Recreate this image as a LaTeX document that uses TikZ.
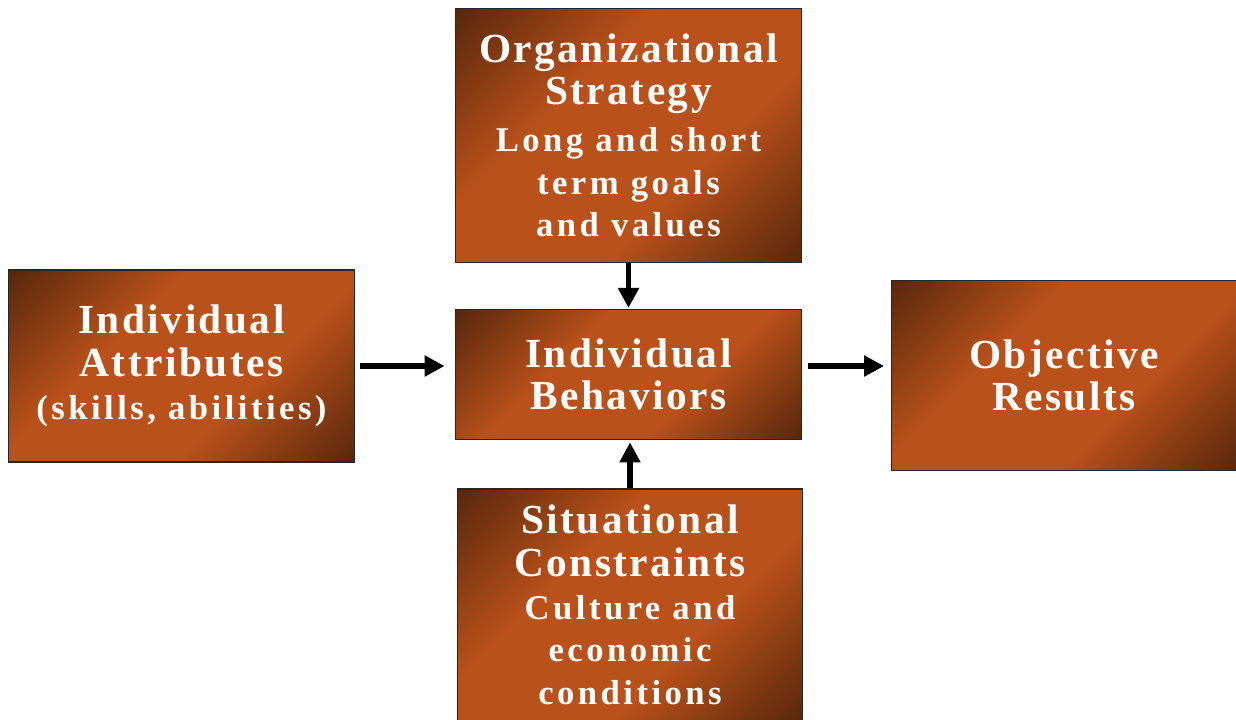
\documentclass[tikz,border=0pt]{standalone}
\usepackage{fontspec}
\setmainfont{Liberation Serif}
\usepackage{tikz}
\usetikzlibrary{arrows.meta}

\definecolor{boxdark}{RGB}{90,40,13}
\definecolor{boxorange}{RGB}{186,81,26}
\pgfdeclareverticalshading{boxshade}{100bp}{color(0bp)=(boxdark); color(15bp)=(boxdark);
  color(38bp)=(boxorange); color(62bp)=(boxorange); color(85bp)=(boxdark); color(100bp)=(boxdark)}

\newcommand{\headtext}{\fontsize{31}{32}\selectfont\bfseries\addfontfeature{LetterSpace=6}}
\newcommand{\subtext}{\fontsize{26}{32}\selectfont\bfseries\addfontfeature{LetterSpace=10}}

\begin{document}
\begin{tikzpicture}[>=Latex,x=0.75pt,y=-0.75pt]
  % Styles
  \tikzset{
    factor/.style={draw=black!85,line width=0.8pt,shading=boxshade,shading angle=45,
      text=white,align=center,minimum width=259pt,inner sep=0pt,
      font={\fontsize{31}{32}\selectfont}},
    link/.style={line width=3.8pt,-{Triangle[length=15pt,width=15pt]}}
  }
  %
  % Page
  \useasboundingbox (0,0) rectangle (1236,719);
  \clip (0,0) rectangle (1236,719);
  %
  % Boxes
  \node[factor,minimum height=191pt] (strategy) at (628.5,135.5)
    {\headtext Organizational\\\headtext Strategy\\[3pt]
     \subtext Long and short\\\subtext term goals\\\subtext and values};
  \node[factor,minimum height=144pt] (attributes) at (181.5,366)
    {\headtext Individual\\\headtext Attributes\\\subtext (skills, abilities)};
  \node[factor,minimum height=97pt] (behaviors) at (628.5,374.5)
    {\headtext Individual\\\headtext Behaviors};
  \node[factor,minimum height=143pt] (results) at (1064,375.5)
    {\headtext Objective\\\headtext Results};
  \node[factor,minimum height=174pt] (constraints) at (630,605)
    {\headtext Situational\\\headtext Constraints\\
     \subtext Culture and\\\subtext economic\\\subtext conditions};
  %
  % Arrows
  \draw[link,shorten <=4pt,shorten >=8pt] (attributes.east) -- (attributes.east -| behaviors.west);
  \draw[link,shorten <=5pt,shorten >=5pt] (behaviors.east |- attributes.east) -- (results.west |- attributes.east);
  \draw[link,shorten >=1pt] (strategy) -- (behaviors);
  \draw[link,shorten >=2pt] (constraints.north) -- (constraints.north |- behaviors.south);
  %
\end{tikzpicture}
\end{document}
